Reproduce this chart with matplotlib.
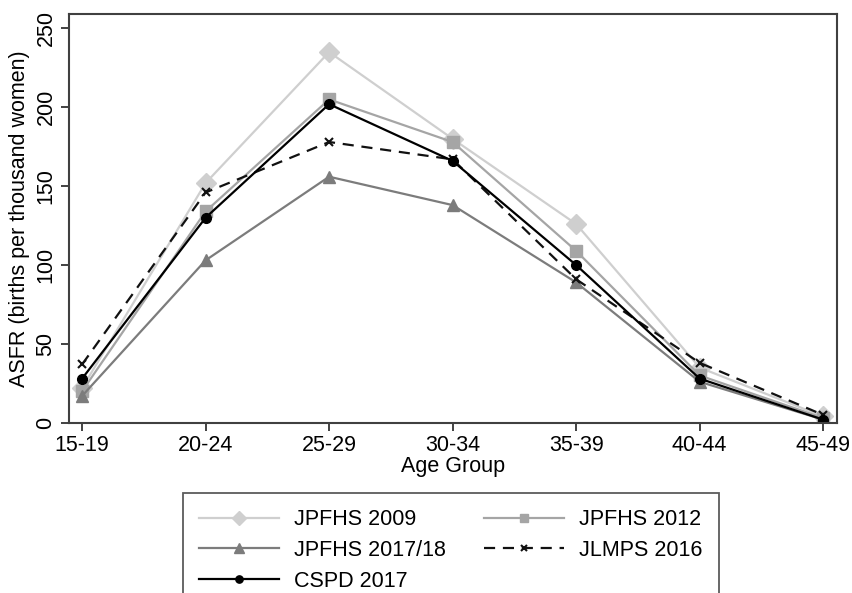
import matplotlib
matplotlib.use("Agg")
import matplotlib.pyplot as plt

plt.rcParams['font.family'] = ['Liberation Sans', 'DejaVu Sans']

age_groups = ["15-19", "20-24", "25-29", "30-34", "35-39", "40-44", "45-49"]
jpfhs_2009 = [22, 152, 235, 180, 126, 35, 4]
jpfhs_2012 = [20, 134, 205, 178, 109, 30, 3]
jpfhs_2017 = [17, 103, 156, 138, 89, 26, 2]
jlmps_2016 = [37, 146, 178, 167, 91, 38, 5]
cspd_2017 = [28, 130, 202, 166, 100, 28, 2]

FS = 15.5

fig = plt.figure(figsize=(8.53, 5.93), dpi=100)
ax = fig.add_axes([0.081, 0.287, 0.900, 0.689])

x = list(range(len(age_groups)))
h1, = ax.plot(x, jpfhs_2009, color="#cfcfcf", lw=1.6, marker="D", ms=10,
              mec="#cfcfcf", mfc="#cfcfcf", label="JPFHS 2009")
h2, = ax.plot(x, jpfhs_2012, color="#a5a5a5", lw=1.6, marker="s", ms=8,
              mec="#a5a5a5", mfc="#a5a5a5", label="JPFHS 2012")
h3, = ax.plot(x, jpfhs_2017, color="#7c7c7c", lw=1.6, marker="^", ms=9,
              mec="#7c7c7c", mfc="#7c7c7c", label="JPFHS 2017/18")
h4, = ax.plot(x, jlmps_2016, color="#111111", lw=1.6, ls=(0, (5, 3.5)),
              marker="x", ms=6, mew=1.5, label="JLMPS 2016")
h5, = ax.plot(x, cspd_2017, color="#000000", lw=1.6, marker="o", ms=7,
              label="CSPD 2017")

ax.set_xlim(-0.105, 6.11)
ax.set_ylim(0, 259)
ax.set_xticks(x)
ax.set_xticklabels(age_groups)
ax.set_yticks([0, 50, 100, 150, 200, 250])
ax.tick_params(axis="both", direction="out", length=6, width=1.3,
               color="#333333", labelsize=FS, pad=3)
for lbl in ax.get_yticklabels():
    lbl.set_rotation(90)
    lbl.set_va("center")
for s in ax.spines.values():
    s.set_color("#404040")
    s.set_linewidth(1.5)
ax.set_xlabel("Age Group", fontsize=FS, labelpad=0)
ax.set_ylabel("ASFR (births per thousand women)", fontsize=FS, labelpad=4)

leg = fig.legend([h1, h3, h5, h2, h4],
                 ["JPFHS 2009", "JPFHS 2017/18", "CSPD 2017", "JPFHS 2012", "JLMPS 2016"],
                 ncol=2, loc="upper left", bbox_to_anchor=(183 / 853, 1 - 493 / 593),
                 borderaxespad=0,
                 fontsize=FS, frameon=True, fancybox=False, edgecolor="#333333",
                 handlelength=3.7, columnspacing=1.8, labelspacing=0.45,
                 borderpad=0.75, handletextpad=0.7, markerscale=0.75)
leg.get_frame().set_linewidth(1.3)

fig.savefig("out.png", dpi=100)
